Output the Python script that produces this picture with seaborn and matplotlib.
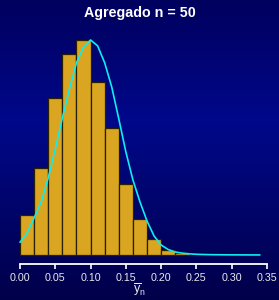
import numpy as np
import pandas as pd
import matplotlib
matplotlib.use('Agg')
import matplotlib.pyplot as plt
from matplotlib.colors import LinearSegmentedColormap
import seaborn as sns

# histogram of the aggregated mean (bins of width 0.02)
bin_edges = [0.00, 0.02, 0.04, 0.06, 0.08, 0.10, 0.12, 0.14, 0.16, 0.18, 0.20, 0.22, 0.24]
bin_counts = [35, 77, 139, 178, 190, 153, 112, 63, 32, 14, 4, 2]

# density curve
curve_x = [0.00, 0.01, 0.02, 0.03, 0.04, 0.05, 0.06, 0.07, 0.08, 0.09, 0.10, 0.11,
           0.12, 0.13, 0.14, 0.15, 0.16, 0.17, 0.18, 0.19, 0.20, 0.21, 0.22, 0.23,
           0.24, 0.25, 0.26, 0.27, 0.28, 0.29, 0.30, 0.31, 0.32, 0.33, 0.34]
curve_y = [0.56, 0.97, 1.64, 2.35, 3.41, 4.69, 6.06, 7.35, 8.50, 9.20, 9.51, 9.25,
           8.50, 7.43, 6.02, 4.56, 3.32, 2.35, 1.50, 0.84, 0.44, 0.24, 0.13, 0.08,
           0.05, 0.03, 0.02, 0.013, 0.009, 0.006, 0.004, 0.003, 0.002, 0.001, 0.001]

xticks = [0.00, 0.05, 0.10, 0.15, 0.20, 0.25, 0.30, 0.35]
xtick_labels = ['0.00', '0.05', '0.10', '0.15', '0.20', '0.25', '0.30', '0.35']

sns.set_style('white')
plt.rcParams['font.family'] = ['Liberation Sans', 'DejaVu Sans']
plt.rcParams['mathtext.fontset'] = 'custom'
plt.rcParams['mathtext.rm'] = 'Liberation Sans'

df = pd.DataFrame({'mid': [(a + b) / 2 for a, b in zip(bin_edges[:-1], bin_edges[1:])],
                   'count': bin_counts})

fig = plt.figure(figsize=(2.79, 3.0), dpi=100)

# dark blue gradient background
bg = fig.add_axes([0, 0, 1, 1], zorder=0)
grad_cmap = LinearSegmentedColormap.from_list(
    'bg', [(0.0, '#00005E'), (0.4, '#00088A'), (1.0, '#00004A')])
bg.imshow(np.linspace(0, 1, 300).reshape(-1, 1), aspect='auto', cmap=grad_cmap,
          extent=[0, 1, 0, 1])
bg.axis('off')

ax = fig.add_axes([10 / 279, 36 / 300, 267 / 279, 229 / 300], zorder=1)
ax.patch.set_alpha(0)

sns.histplot(data=df, x='mid', weights='count', bins=bin_edges, stat='density',
             color='#DAA520', edgecolor='#2a1f00', linewidth=0.9, alpha=1, ax=ax)
sns.lineplot(x=curve_x, y=curve_y, color='#10ECF0', linewidth=1.2, ax=ax)

ax.set_xlim(-0.01417, 0.3642)
ax.set_ylim(-0.40, 9.73)
for s in ['left', 'top', 'right']:
    ax.spines[s].set_visible(False)
ax.spines['bottom'].set_bounds(0, 0.35)
ax.spines['bottom'].set_color('white')
ax.spines['bottom'].set_linewidth(1.3)
ax.set_yticks([])
ax.set_ylabel('')
ax.set_xlabel('')
ax.set_xticks(xticks, xtick_labels)
ax.tick_params(axis='x', bottom=True, direction='out', colors='white', length=3.5,
               width=1.2, labelsize=7.7, pad=2.8, labelcolor='#e8e8ee')

fig.text(140 / 279, 1 - 17.3 / 300, 'Agregado n = 50', ha='center', va='baseline',
         fontsize=10.3, fontweight='bold', color='white')
fig.text(139 / 279, 1 - 290 / 300, r'$\overline{\mathrm{y}}_{\mathrm{n}}$', ha='center',
         va='center', fontsize=9, color='#e8e8ee')

fig.savefig('out.png', dpi=100)
